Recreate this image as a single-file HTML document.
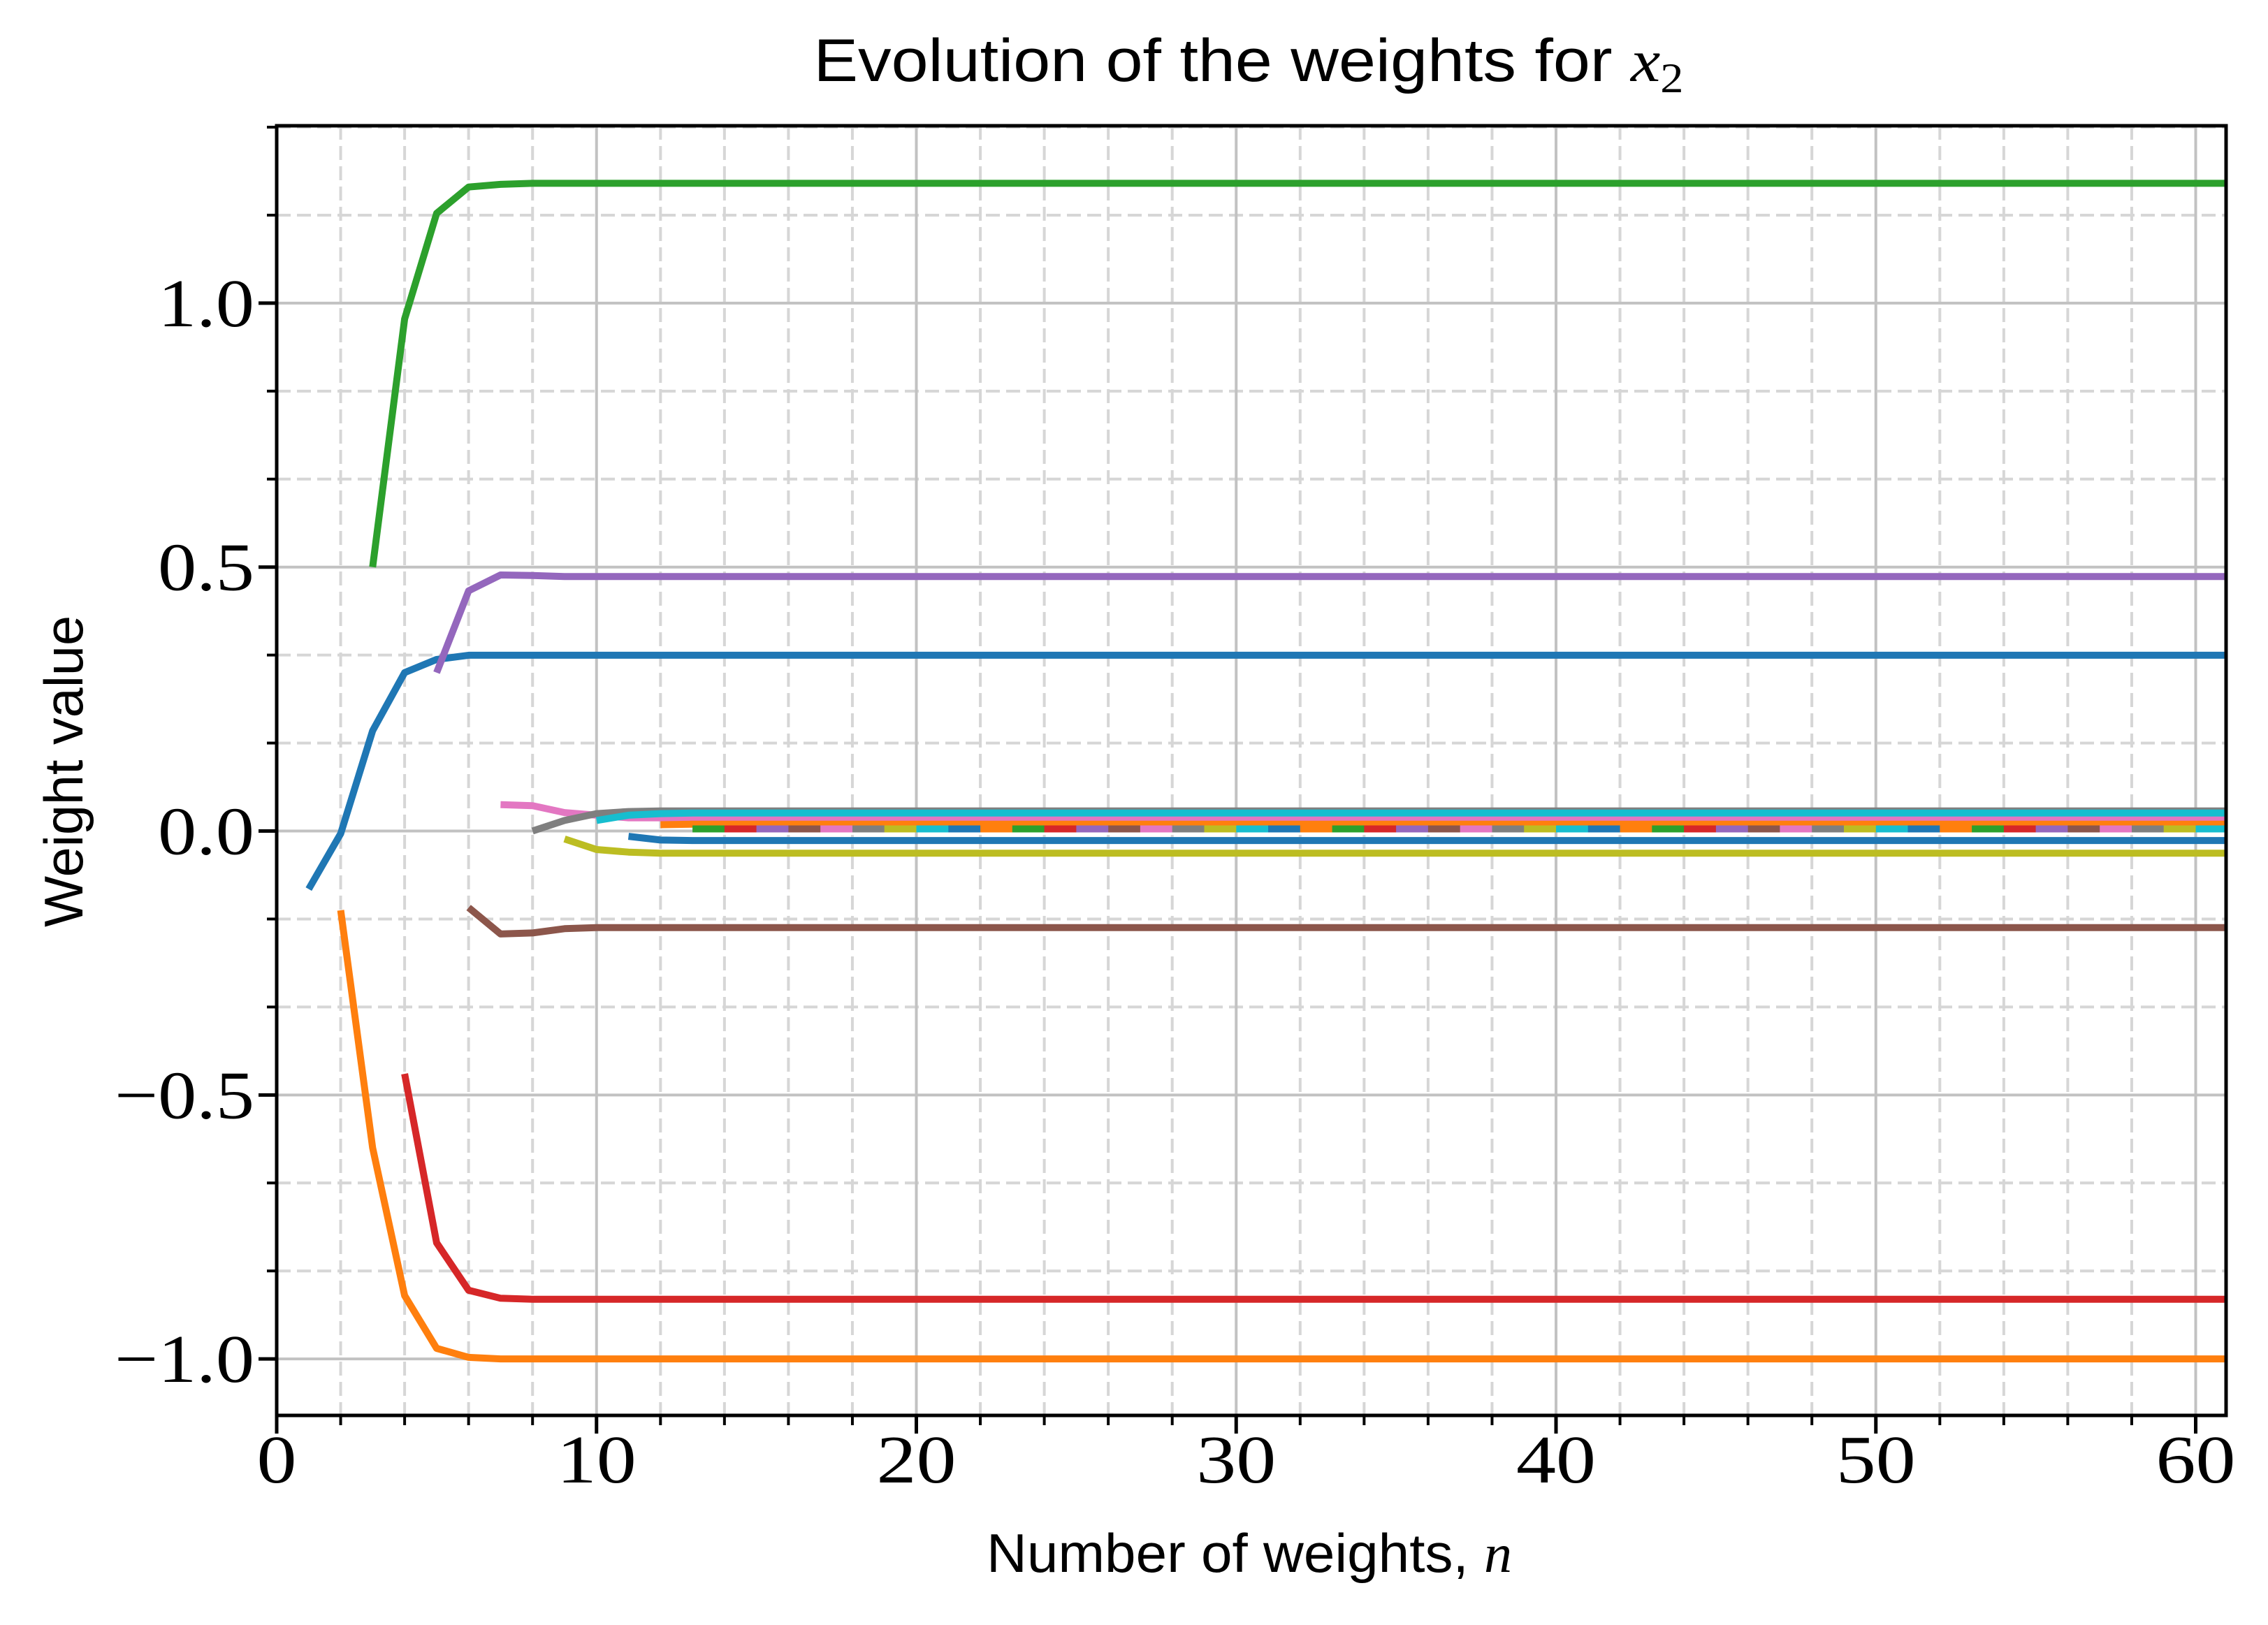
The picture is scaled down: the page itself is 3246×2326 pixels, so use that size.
<!DOCTYPE html>
<html><head><meta charset="utf-8"><style>
html,body{margin:0;padding:0;background:#fff}
svg{display:block}
</style></head><body>
<svg id="chart" xmlns="http://www.w3.org/2000/svg" width="3246" height="2326" viewBox="0 0 3246 2326">
<rect width="3246" height="2326" fill="#fff"/>
<defs><clipPath id="plotclip"><rect x="396" y="180" width="2790" height="1846"/></clipPath></defs>
<g id="grid"></g>
<g id="series" clip-path="url(#plotclip)"></g>
<g id="axes"></g>
<text x="1787" y="116" text-anchor="middle" font-family="Liberation Sans, sans-serif" font-size="86" textLength="1245" lengthAdjust="spacingAndGlyphs">Evolution of the weights for <tspan font-family="Liberation Serif, serif" font-style="italic">x</tspan><tspan font-family="Liberation Serif, serif" font-size="60" dy="16">2</tspan></text>
<text x="1788" y="2250" text-anchor="middle" font-family="Liberation Sans, sans-serif" font-size="78" textLength="752" lengthAdjust="spacingAndGlyphs">Number of weights, <tspan font-family="Liberation Serif, serif" font-style="italic">n</tspan></text>
<text transform="translate(118,1104) rotate(-90)" text-anchor="middle" font-family="Liberation Sans, sans-serif" font-size="78" textLength="446" lengthAdjust="spacingAndGlyphs">Weight value</text>
</svg>
<script>
const xTicks = [0, 10, 20, 30, 40, 50, 60];
const xTickLabels = ["0", "10", "20", "30", "40", "50", "60"];
const yTicks = [-1.0, -0.5, 0.0, 0.5, 1.0];
const yTickLabels = ["\u22121.0", "\u22120.5", "0.0", "0.5", "1.0"];
const colors = ["#1f77b4","#ff7f0e","#2ca02c","#d62728","#9467bd","#8c564b","#e377c2","#7f7f7f","#bcbd22","#17becf"];
// each series starts at n = index+1; early values then settled value held to n=61
const s0 = [-0.11, -0.005, 0.19, 0.30, 0.325, 0.333];
const s1 = [-0.15, -0.60, -0.88, -0.98, -0.997, -1.0];
const s2 = [0.50, 0.97, 1.17, 1.22, 1.225, 1.227];
const s3 = [-0.46, -0.78, -0.87, -0.885, -0.887];
const s4 = [0.30, 0.455, 0.485, 0.484, 0.482];
const s5 = [-0.145, -0.195, -0.193, -0.185, -0.183];
const s6 = [0.05, 0.048, 0.035, 0.03, 0.025];
const s7 = [0.0, 0.02, 0.033, 0.037, 0.038];
const s8 = [-0.015, -0.035, -0.04, -0.042];
const s9 = [0.02, 0.03, 0.033, 0.034];
const s10 = [-0.01, -0.017, -0.018];
const s11 = [0.012, 0.013];
const tailValue = [0.004];
const tailSeriesCount = 49;
const nMax = 61;

const X0=396, X1=3186, Y0=180, Y1=2026;
const xMin=0, xMax=60.95, yMin=-1.107, yMax=1.336;
function xs(v){return X0+(v-xMin)/(xMax-xMin)*(X1-X0);}
function ys(v){return Y1-(v-yMin)/(yMax-yMin)*(Y1-Y0);}
function labW(s){let w=0;for(const c of s){w+= c==='.'?24:(c==='\u2212'?62:57);}return w;}
const NS="http://www.w3.org/2000/svg";
function mk(tag,attrs,parent){const e=document.createElementNS(NS,tag);for(const k in attrs)e.setAttribute(k,attrs[k]);parent.appendChild(e);return e;}
const grid=document.getElementById('grid'), axes=document.getElementById('axes'), ser=document.getElementById('series');

for(let v=2; v<xMax; v+=2){ if(v%10===0) continue;
  const l=mk('line',{x1:xs(v),x2:xs(v),y1:Y0,y2:Y1,stroke:'#d6d6d6','stroke-width':4,'stroke-dasharray':'20,9'},grid);
   
  const t=mk('line',{x1:xs(v),x2:xs(v),y1:Y1,y2:Y1+14,stroke:'#000','stroke-width':4},axes);
   
}
for(let k=-6;k<=8;k++){ if(k%3===0) continue; const v=k/6; if(v<yMin||v>yMax) continue;
  const l=mk('line',{x1:X0,x2:X1,y1:ys(v),y2:ys(v),stroke:'#d6d6d6','stroke-width':4,'stroke-dasharray':'20,9'},grid);
   
  const t=mk('line',{x1:X0-14,x2:X0,y1:ys(v),y2:ys(v),stroke:'#000','stroke-width':4},axes);
   
}
xTicks.forEach((v,i)=>{
  const l=mk('line',{x1:xs(v),x2:xs(v),y1:Y0,y2:Y1,stroke:'#c2c2c2','stroke-width':4},grid);
   
  const t=mk('line',{x1:xs(v),x2:xs(v),y1:Y1,y2:Y1+26,stroke:'#000','stroke-width':5},axes);
   
  const tx=mk('text',{x:xs(v),y:2122,'text-anchor':'middle','font-family':'Liberation Serif, serif','font-size':98,textLength:labW(xTickLabels[i]),lengthAdjust:'spacingAndGlyphs'},axes);
  tx.textContent=xTickLabels[i];
   
});
yTicks.forEach((v,i)=>{
  const l=mk('line',{x1:X0,x2:X1,y1:ys(v),y2:ys(v),stroke:'#c2c2c2','stroke-width':4},grid);
   
  const t=mk('line',{x1:X0-26,x2:X0,y1:ys(v),y2:ys(v),stroke:'#000','stroke-width':5},axes);
   
  const tx=mk('text',{x:364,y:ys(v)+33,'text-anchor':'end','font-family':'Liberation Serif, serif','font-size':98,textLength:labW(yTickLabels[i]),lengthAdjust:'spacingAndGlyphs'},axes);
  tx.textContent=yTickLabels[i];
   
});
const allSeries=[s0,s1,s2,s3,s4,s5,s6,s7,s8,s9,s10,s11];
for(let k=0;k<tailSeriesCount;k++) allSeries.push(tailValue);
allSeries.forEach((arr,idx)=>{
  const start=idx+1; if(start>nMax) return;
  const pts=[];
  for(let n=start;n<=nMax;n++){const j=n-start; const v=j<arr.length?arr[j]:arr[arr.length-1]; pts.push(xs(n).toFixed(1)+','+ys(v).toFixed(1));}
  const p=mk('polyline',{points:pts.join(' '),fill:'none',stroke:colors[idx%10],'stroke-width':10,'stroke-linejoin':'round','stroke-linecap':'butt'},ser);
  
  
});
const sp=mk('rect',{x:X0,y:Y0,width:X1-X0,height:Y1-Y0,fill:'none',stroke:'#000','stroke-width':5},axes);


</script>
</body></html>
